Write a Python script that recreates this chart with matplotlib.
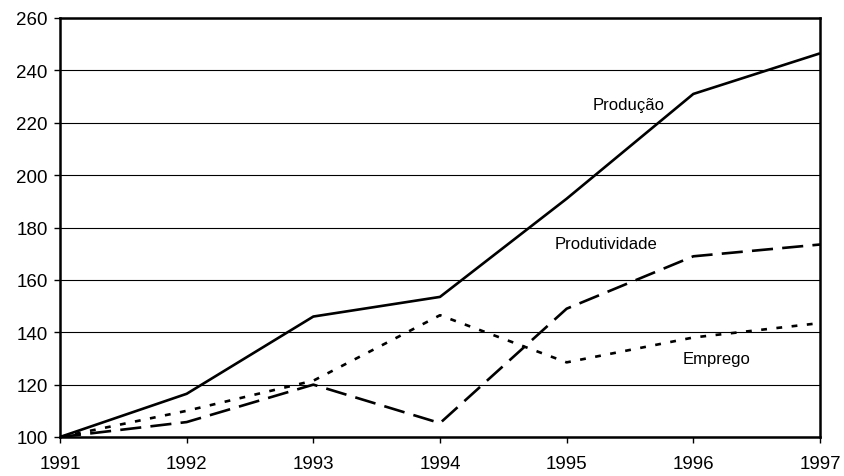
import matplotlib
matplotlib.use('Agg')
from matplotlib import pyplot as plt

plt.rcParams['font.family'] = ['Liberation Sans', 'DejaVu Sans']

anos = [1991, 1992, 1993, 1994, 1995, 1996, 1997]
producao = [100, 116.5, 146, 153.5, 191, 231, 246.5]
produtividade = [100, 105.7, 120, 105.3, 149, 169, 173.5]
emprego = [100, 110, 121.5, 146.5, 128.5, 138, 143.5]

fig = plt.figure(figsize=(8.44, 4.77), dpi=100)
ax = fig.add_axes([60 / 844, 1 - 438 / 477, 760 / 844, 419 / 477])

ax.plot(anos, producao, color='black', lw=1.9, solid_capstyle='butt')
ax.plot(anos, produtividade, color='black', lw=1.9, dashes=(8, 3.5))
ax.plot(anos, emprego, color='black', lw=1.9, dashes=(2.2, 3.6))

ax.set_xlim(1991, 1997)
ax.set_ylim(100, 260)
ax.set_yticks(range(100, 261, 20))
ax.set_xticks(anos)
ax.tick_params(labelsize=13.5, length=4, width=1, direction='out')
ax.tick_params(axis='x', pad=9)
ax.tick_params(axis='y', pad=5)
ax.yaxis.grid(True, color='black', lw=0.8)
ax.set_axisbelow(True)
for s in ax.spines.values():
    s.set_linewidth(1.8)

ax.text(1995.49, 227, 'Produção', fontsize=12, ha='center', va='center')
ax.text(1995.31, 173.7, 'Produtividade', fontsize=12, ha='center', va='center')
ax.text(1996.18, 130, 'Emprego', fontsize=12, ha='center', va='center')

fig.savefig('out.png', dpi=100)
